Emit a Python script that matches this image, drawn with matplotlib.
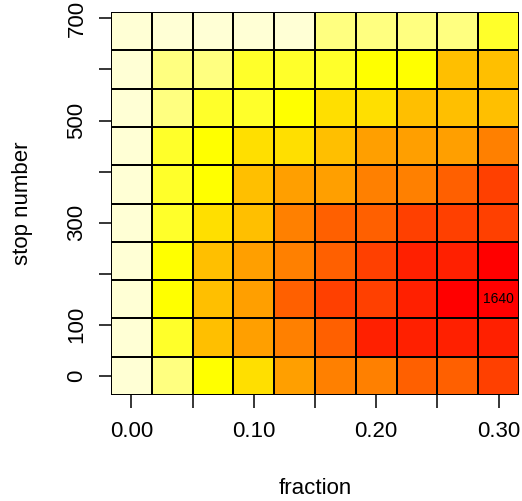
import numpy as np
import matplotlib
matplotlib.use("Agg")
import matplotlib.pyplot as plt
from matplotlib.colors import ListedColormap, BoundaryNorm

plt.rcParams['font.family'] = ['Liberation Sans', 'DejaVu Sans']

# grid of fractions (columns) and stop numbers (rows)
fraction = [0.0, 1/30, 2/30, 3/30, 4/30, 5/30, 6/30, 7/30, 8/30, 9/30]
stop_number = [0, 75, 150, 225, 300, 375, 450, 525, 600, 675]

# counts per cell, one list per stop number (bottom to top)
counts_0   = [0, 200, 440, 620, 850, 960, 1000, 1120, 1180, 1250]
counts_75  = [16, 380, 700, 860, 1000, 1170, 1400, 1440, 1470, 1430]
counts_150 = [20, 450, 740, 890, 1120, 1260, 1320, 1450, 1590, 1640]
counts_225 = [18, 430, 720, 870, 1010, 1150, 1290, 1420, 1480, 1560]
counts_300 = [15, 350, 600, 780, 980, 1110, 1180, 1260, 1310, 1350]
counts_375 = [12, 330, 520, 730, 840, 900, 990, 1050, 1150, 1280]
counts_450 = [10, 300, 480, 590, 660, 760, 860, 900, 940, 1010]
counts_525 = [8, 200, 285, 350, 450, 560, 640, 700, 750, 800]
counts_600 = [5, 170, 230, 300, 330, 380, 420, 470, 720, 760]
counts_675 = [0, 40, 75, 100, 125, 150, 190, 215, 245, 290]

x_ticks = [0.0, 0.05, 0.10, 0.15, 0.20, 0.25, 0.30]
x_labels = ["0.00", "", "0.10", "", "0.20", "", "0.30"]
y_ticks = [0, 100, 200, 300, 400, 500, 600, 700]
y_labels = ["0", "100", "", "300", "", "500", "", "700"]

Z = np.array([counts_0, counts_75, counts_150, counts_225, counts_300,
              counts_375, counts_450, counts_525, counts_600, counts_675], dtype=float)
x = np.array(fraction)
y = np.array(stop_number)

# R heat.colors(12), reversed so that low counts are pale
heat12 = ["#FF0000", "#FF2000", "#FF4000", "#FF6000", "#FF8000", "#FF9F00",
          "#FFBF00", "#FFDF00", "#FFFF00", "#FFFF2A", "#FFFF80", "#FFFFD5"][::-1]
cmap = ListedColormap(heat12)
zmin, zmax = Z.min(), Z.max()
norm = BoundaryNorm(np.linspace(zmin, zmax, 13), cmap.N, clip=True)

dx = x[1] - x[0]
dy = y[1] - y[0]
xe = np.concatenate([x - dx / 2, [x[-1] + dx / 2]])
ye = np.concatenate([y - dy / 2, [y[-1] + dy / 2]])

fig = plt.figure(figsize=(5.22, 5.01), dpi=100)
ax = fig.add_axes([111 / 522, 1 - 395 / 501, 408 / 522, 383 / 501])
ax.pcolormesh(xe, ye, Z, cmap=cmap, norm=norm, edgecolors="black", linewidth=1.35)
ax.set_xlim(xe[0], xe[-1])
ax.set_ylim(ye[0], ye[-1])

# label the largest cell
iy, ix = np.unravel_index(np.argmax(Z), Z.shape)
ax.text(x[ix], y[iy], f"{int(Z[iy, ix])}", ha="center", va="center", fontsize=10)

for s in ax.spines.values():
    s.set_visible(False)

ax.set_xticks(x_ticks)
ax.set_xticklabels(x_labels)
ax.set_yticks(y_ticks)
ax.set_yticklabels(y_labels, rotation=90, va="center")
ax.tick_params(axis="both", direction="out", length=9, width=1.1, labelsize=16)
ax.tick_params(axis="x", pad=10)
ax.tick_params(axis="y", pad=8)

ax.set_xlabel("fraction", fontsize=16, labelpad=26)
ax.set_ylabel("stop number", fontsize=16, labelpad=24)

fig.savefig("out.png", dpi=100)
